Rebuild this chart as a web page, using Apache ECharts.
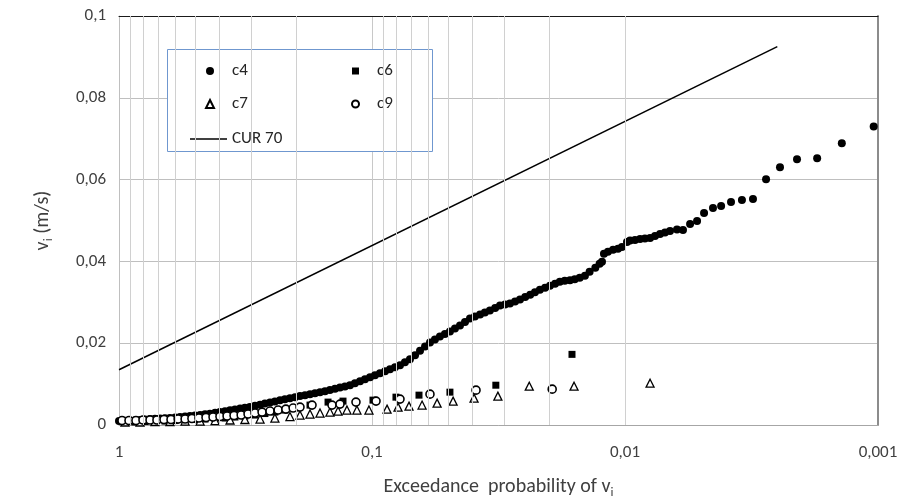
<!DOCTYPE html>
<html>
<head>
<meta charset="utf-8">
<script src="https://cdn.jsdelivr.net/npm/echarts@6/dist/echarts.min.js"></script>
<style>
  html, body { margin: 0; padding: 0; background: #fff; }
  #chart { width: 905px; height: 504px; }
</style>
</head>
<body>
<div id="chart"></div>
<script>
// values: exceedance probability (x) and v_i in m/s (y)
const c4P = [1.000, 0.947, 0.905, 0.865, 0.826, 0.789, 0.754, 0.721, 0.688, 0.658, 0.629, 0.600, 0.574, 0.548, 0.524, 0.501,
  0.478, 0.457, 0.437, 0.417, 0.399, 0.381, 0.364, 0.348, 0.332, 0.318, 0.304, 0.290, 0.277, 0.265, 0.253, 0.242, 0.231,
  0.221, 0.211, 0.2015, 0.1926, 0.1840, 0.1758, 0.1680, 0.1605, 0.1534, 0.1466, 0.1400, 0.1338, 0.1279, 0.1222, 0.1168,
  0.1115, 0.1066, 0.1018, 0.0973, 0.0930, 0.0888, 0.0849, 0.0811, 0.0775, 0.0741, 0.0708, 0.0676, 0.0646, 0.0617, 0.0590,
  0.0564, 0.0539, 0.0515, 0.0492, 0.0470, 0.0449, 0.0429, 0.0410, 0.0392, 0.0374, 0.0358, 0.0342, 0.0326, 0.0312, 0.0298,
  0.0285, 0.0272, 0.0260, 0.0248, 0.0237, 0.0227, 0.0217, 0.0207, 0.0198, 0.0189, 0.0181, 0.0173, 0.0165, 0.0158, 0.0151,
  0.0144, 0.0138, 0.0131, 0.0126,
  0.01233, 0.01211, 0.01168, 0.01115, 0.01066, 0.01028, 0.00982, 0.00955, 0.00913, 0.00872, 0.00834, 0.00796, 0.00761,
  0.00727, 0.00695, 0.00664, 0.00623, 0.00590, 0.00553, 0.00519, 0.00487, 0.00449, 0.00417, 0.00381, 0.00345, 0.00312,
  0.00277, 0.00244, 0.00209, 0.00174, 0.00139, 0.00104];
const c4V = [0.00097, 0.00105, 0.00109, 0.00117, 0.00122, 0.00134, 0.00146, 0.00151, 0.00158, 0.00165, 0.00170, 0.00182,
  0.00195, 0.00207, 0.00219, 0.00231, 0.00243, 0.00260, 0.00277, 0.00297, 0.00316, 0.00336, 0.00358, 0.00380, 0.00401,
  0.00421, 0.00443, 0.00470, 0.00496, 0.00523, 0.00550, 0.00577, 0.00603, 0.00630, 0.00657, 0.00681, 0.00706, 0.00730,
  0.00754, 0.00779, 0.00803, 0.00827, 0.00856, 0.00886, 0.00915, 0.00944, 0.00973, 0.01022, 0.01071, 0.01119, 0.01168,
  0.01217, 0.01265, 0.01314, 0.01363, 0.01411, 0.01460, 0.01533, 0.01606, 0.01703, 0.01813, 0.01922, 0.02019, 0.02092,
  0.02165, 0.02226, 0.02287, 0.02360, 0.02433, 0.02518, 0.02603, 0.02652, 0.02701, 0.02749, 0.02798, 0.02859, 0.02920,
  0.02944, 0.02968, 0.03017, 0.03066, 0.03127, 0.03187, 0.03248, 0.03309, 0.03358, 0.03406, 0.03455, 0.03504, 0.03528,
  0.03540, 0.03564, 0.03601, 0.03650, 0.03747, 0.03844, 0.03942,
  0.03990, 0.04185, 0.04234, 0.04282, 0.04307, 0.04355, 0.04477, 0.04513, 0.04526, 0.04550, 0.04562, 0.04574, 0.04623,
  0.04672, 0.04708, 0.04745, 0.04781, 0.04769, 0.04915, 0.04988, 0.05182, 0.05304, 0.05353, 0.05450, 0.05499, 0.05523,
  0.06010, 0.06302, 0.06496, 0.06521, 0.06886, 0.07299];

const c6P = [0.947, 0.865, 0.789, 0.721, 0.658, 0.600, 0.548, 0.501, 0.457, 0.417, 0.381, 0.348, 0.318, 0.290, 0.265,
  0.242, 0.221, 0.2015, 0.1758, 0.1492, 0.1302, 0.0991, 0.0804, 0.0652, 0.0492, 0.0324, 0.0162];
const c6V = [0.00073, 0.00073, 0.00085, 0.00097, 0.00097, 0.00109, 0.00122, 0.00134, 0.00146, 0.00158, 0.00170, 0.00195,
  0.00219, 0.00243, 0.00280, 0.00316, 0.00365, 0.00414, 0.00487, 0.00560, 0.00584, 0.00608, 0.00681, 0.00730, 0.00803,
  0.00973, 0.01727];

const c7P = [0.947, 0.826, 0.721, 0.629, 0.548, 0.478, 0.417, 0.364, 0.318, 0.277, 0.242, 0.211, 0.1926, 0.1758, 0.1605,
  0.1466, 0.1362, 0.1256, 0.1147, 0.1028, 0.0872, 0.0789, 0.0714, 0.0634, 0.0553, 0.0478, 0.0395, 0.0318, 0.0239, 0.0159,
  0.00796];
const c7V = [0.00073, 0.00073, 0.00085, 0.00085, 0.00097, 0.00097, 0.00109, 0.00122, 0.00134, 0.00146, 0.00170, 0.00207,
  0.00243, 0.00268, 0.00292, 0.00316, 0.00341, 0.00365, 0.00365, 0.00365, 0.00389, 0.00438, 0.00462, 0.00487, 0.00535,
  0.00584, 0.00657, 0.00706, 0.00949, 0.00949, 0.01022];

const c9P = [0.973, 0.913, 0.857, 0.804, 0.754, 0.708, 0.664, 0.623, 0.584, 0.548, 0.515, 0.483, 0.453, 0.425, 0.399,
  0.374, 0.351, 0.329, 0.309, 0.290, 0.272, 0.253, 0.235, 0.219, 0.205, 0.1926, 0.1726, 0.1439, 0.1338, 0.1157, 0.0964,
  0.0775, 0.0590, 0.0388, 0.0194];
const c9V = [0.00109, 0.00109, 0.00109, 0.00122, 0.00122, 0.00122, 0.00134, 0.00134, 0.00146, 0.00146, 0.00158, 0.00170,
  0.00182, 0.00195, 0.00207, 0.00219, 0.00231, 0.00243, 0.00268, 0.00292, 0.00316, 0.00341, 0.00365, 0.00389, 0.00414,
  0.00438, 0.00487, 0.00487, 0.00511, 0.00560, 0.00584, 0.00633, 0.00754, 0.00852, 0.00876];

// CUR 70 design line (straight on the log axis)
const curP = [1, 0.0025];
const curV = [0.0135, 0.0925];

// minor vertical grid lines: 2..9 within every decade
const decades = [0.1, 0.01, 0.001];
const minorSteps = [2, 3, 4, 5, 6, 7, 8, 9];

const FONT = 'Carlito, Calibri, Lato, sans-serif';
const zip = (p, v) => p.map((x, i) => [x, v[i]]);
const fmt = v => Number(v.toPrecision(6)).toString().replace('.', ',');

const chart = echarts.init(document.getElementById('chart'));

const minorLines = [];
decades.forEach(d => minorSteps.forEach(k => minorLines.push({ xAxis: k * d })));

// legend text, pushed right so it lines up with the CUR 70 label
const legendText = { fontSize: 17, color: '#262626', fontFamily: FONT, lineHeight: 20, padding: [0, 0, 0, 13] };
const titleRich = {
  a: { fontSize: 20, color: '#404040', fontFamily: FONT, lineHeight: 24 },
  s: { fontSize: 13, color: '#404040', fontFamily: FONT, verticalAlign: 'bottom', lineHeight: 14 }
};

chart.setOption({
  animation: false,
  backgroundColor: '#fff',
  grid: { left: 119, right: 27, top: 16, bottom: 77 },
  graphic: [{
    type: 'rect',
    z: 3,
    shape: { x: 167.5, y: 49.5, width: 265, height: 102 },
    style: { fill: '#fff', stroke: '#6f97cf', lineWidth: 1 }
  }],
  legend: [
    {
      data: [{ name: 'c4', icon: 'circle' }, { name: 'c7', icon: 'triangle' }],
      orient: 'vertical', left: 200, top: 56,
      itemWidth: 8, itemHeight: 8, itemGap: 13,
      selectedMode: false, textStyle: legendText, z: 4
    },
    {
      data: [{ name: 'c6', icon: 'rect' }, { name: 'c9', icon: 'circle' }],
      orient: 'vertical', left: 346, top: 56,
      itemWidth: 7, itemHeight: 7, itemGap: 13,
      selectedMode: false, textStyle: legendText, z: 4
    },
    {
      data: [{ name: 'CUR 70', icon: 'rect' }],
      orient: 'vertical', left: 185, top: 124,
      itemWidth: 37, itemHeight: 1.5,
      selectedMode: false, textStyle: { fontSize: 17, color: '#262626', fontFamily: FONT, lineHeight: 20 }, z: 4
    }
  ],
  xAxis: [
    {
      type: 'log', logBase: 10, inverse: true, min: 0.001, max: 1,
      position: 'bottom',
      axisLine: { show: true, onZero: false, lineStyle: { color: '#a6a6a6' } },
      axisTick: { show: false },
      axisLabel: { margin: 19, fontSize: 17, color: '#404040', fontFamily: FONT, formatter: fmt },
      splitLine: { show: true, lineStyle: { color: '#c8c8c8' } },
      name: '{a|Exceedance  probability of v}{s|i}',
      nameLocation: 'middle', nameGap: 50,
      nameTextStyle: { rich: titleRich }
    },
    {
      type: 'log', logBase: 10, inverse: true, min: 0.001, max: 1,
      position: 'top',
      axisLine: { show: true, onZero: false, lineStyle: { color: '#1a1a1a' } },
      axisTick: { show: false }, axisLabel: { show: false }, splitLine: { show: false }
    }
  ],
  yAxis: [
    {
      type: 'value', min: 0, max: 0.1, interval: 0.02,
      axisLine: { show: true, onZero: false, lineStyle: { color: '#bfbfbf' } },
      axisTick: { show: false },
      axisLabel: { margin: 13, fontSize: 17, color: '#404040', fontFamily: FONT, formatter: fmt },
      splitLine: { show: true, lineStyle: { color: '#bfbfbf' } },
      name: '{a|v}{s|i}{a| (m/s)}',
      nameLocation: 'middle', nameGap: 64, nameRotate: 90,
      nameTextStyle: { rich: titleRich }
    },
    {
      type: 'value', min: 0, max: 0.1, position: 'right',
      axisLine: { show: true, onZero: false, lineStyle: { color: '#8c8c8c', width: 2 } },
      axisTick: { show: false }, axisLabel: { show: false }, splitLine: { show: false }
    }
  ],
  series: [
    {
      name: 'minor grid', type: 'line', data: [], z: 1, silent: true,
      markLine: {
        silent: true, symbol: 'none', label: { show: false },
        lineStyle: { color: '#d0d0d0', width: 1, type: 'solid' },
        data: minorLines
      }
    },
    {
      name: 'c4', type: 'scatter', data: zip(c4P, c4V),
      symbol: 'circle', symbolSize: 8, itemStyle: { color: '#000', opacity: 1 }
    },
    {
      name: 'c6', type: 'scatter', data: zip(c6P, c6V),
      symbol: 'rect', symbolSize: 7, itemStyle: { color: '#000', opacity: 1 }
    },
    {
      name: 'c7', type: 'scatter', data: zip(c7P, c7V),
      symbol: 'triangle', symbolSize: 8,
      itemStyle: { color: '#fff', borderColor: '#000', borderWidth: 1.3, opacity: 1 }
    },
    {
      name: 'c9', type: 'scatter', data: zip(c9P, c9V),
      symbol: 'circle', symbolSize: 8,
      itemStyle: { color: '#fff', borderColor: '#000', borderWidth: 1.6, opacity: 1 }
    },
    {
      name: 'CUR 70', type: 'line', data: zip(curP, curV),
      symbol: 'none', lineStyle: { color: '#000', width: 1.5 }, itemStyle: { color: '#000' }
    }
  ]
});
</script>
</body>
</html>
